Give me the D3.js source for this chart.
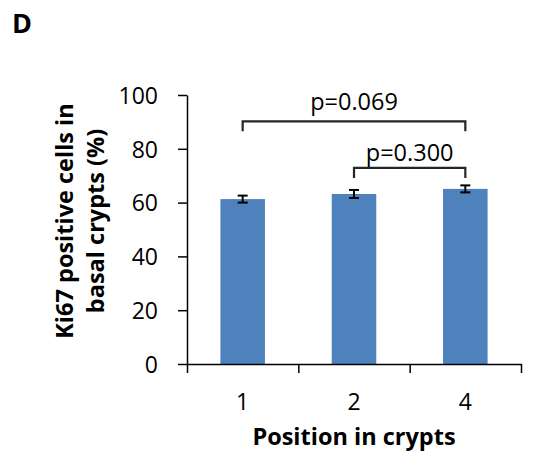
<!DOCTYPE html>
<html>
<head>
<meta charset="utf-8">
<script src="https://cdn.jsdelivr.net/npm/d3@7"></script>
<style>
  html, body { margin: 0; padding: 0; background: #fff; }
  svg { display: block; }
</style>
</head>
<body>
<svg id="chart" width="533" height="461"></svg>
<script>
// Ki67 positive cells by crypt position
const positions = ["1", "2", "4"];
const ki67Mean = [61.3, 63.2, 65.1];
const ki67Err = [1.3, 1.5, 1.3];
const yTicks = [0, 20, 40, 60, 80, 100];
// bracket and label heights are in percent units
const comparisons = [
  { from: "1", to: "4", label: "p=0.069", level: 90.2, labelLevel: 94.4 },
  { from: "2", to: "4", label: "p=0.300", level: 72.9, labelLevel: 75.5 }
];

const svg = d3.select("#chart");
const font = "'Open Sans', 'Liberation Sans', sans-serif";

const plotLeft = 187, plotRight = 521, plotTop = 95, plotBottom = 364;

const x = d3.scaleBand().domain(positions).range([plotLeft, plotRight])
  .paddingInner(0.6).paddingOuter(0.3);
const y = d3.scaleLinear().domain([0, 100]).range([plotBottom, plotTop]);

// Bars
svg.append("g").selectAll("rect")
  .data(positions)
  .join("rect")
  .attr("x", d => x(d))
  .attr("width", x.bandwidth())
  .attr("y", (d, i) => y(ki67Mean[i]))
  .attr("height", (d, i) => y(0) - y(ki67Mean[i]))
  .attr("fill", "#4F81BD");

// Error bars
const eb = svg.append("g").attr("stroke", "#000").attr("stroke-width", 2);
positions.forEach((p, i) => {
  const cx = x(p) + x.bandwidth() / 2;
  const y0 = y(ki67Mean[i] - ki67Err[i]);
  const y1 = y(ki67Mean[i] + ki67Err[i]);
  eb.append("line").attr("x1", cx).attr("x2", cx).attr("y1", y0).attr("y2", y1);
  eb.append("line").attr("x1", cx - 5).attr("x2", cx + 5).attr("y1", y0).attr("y2", y0);
  eb.append("line").attr("x1", cx - 5).attr("x2", cx + 5).attr("y1", y1).attr("y2", y1);
});

// Y axis
const yAxis = svg.append("g")
  .attr("transform", `translate(${plotLeft},0)`)
  .call(d3.axisLeft(y).tickValues(yTicks).tickSize(9).tickSizeOuter(0).tickPadding(20));
yAxis.select(".domain").attr("stroke", "#000").attr("stroke-width", 1.5);
yAxis.selectAll(".tick line").attr("stroke", "#000").attr("stroke-width", 1.5);
yAxis.selectAll("text")
  .attr("font-family", font).attr("font-size", 23).attr("fill", "#000")
  .attr("dy", "0.36em");

// X axis: tick marks on category boundaries, labels under each bar
const boundary = d3.scaleLinear().domain([0, positions.length]).range([plotLeft, plotRight]);
const xTicks = svg.append("g")
  .attr("transform", `translate(0,${plotBottom})`)
  .call(d3.axisBottom(boundary).tickValues(d3.range(positions.length + 1))
    .tickSize(9).tickSizeOuter(0).tickFormat(""));
xTicks.select(".domain").attr("stroke", "#000").attr("stroke-width", 1.5);
xTicks.selectAll(".tick line").attr("stroke", "#000").attr("stroke-width", 1.5);

const xLabels = svg.append("g")
  .attr("transform", `translate(0,${plotBottom})`)
  .call(d3.axisBottom(x).tickSize(0).tickPadding(0));
xLabels.select(".domain").remove();
xLabels.selectAll("text")
  .attr("font-family", font).attr("font-size", 23).attr("fill", "#000")
  .attr("y", 46).attr("dy", 0);

// Significance brackets
const br = svg.append("g");
comparisons.forEach(c => {
  const x1 = x(c.from) + x.bandwidth() / 2;
  const x2 = x(c.to) + x.bandwidth() / 2;
  const yy = y(c.level);
  br.append("path")
    .attr("d", `M${x1},${yy + 10}V${yy}H${x2}V${yy + 10}`)
    .attr("fill", "none").attr("stroke", "#262626").attr("stroke-width", 2.2);
  br.append("text")
    .attr("x", (x1 + x2) / 2).attr("y", y(c.labelLevel))
    .attr("text-anchor", "middle")
    .attr("font-family", font).attr("font-size", 23.5).attr("fill", "#000")
    .text(c.label);
});

// Axis titles
svg.append("text")
  .attr("x", 354).attr("y", 445)
  .attr("text-anchor", "middle")
  .attr("font-family", font).attr("font-size", 23.5).attr("font-weight", "bold")
  .text("Position in crypts");

const yTitle = svg.append("text")
  .attr("transform", "translate(0,221) rotate(-90)")
  .attr("text-anchor", "middle")
  .attr("font-family", font).attr("font-size", 23.5).attr("font-weight", "bold");
yTitle.append("tspan").attr("x", 0).attr("y", 73).text("Ki67 positive cells in");
yTitle.append("tspan").attr("x", 0).attr("y", 104).text("basal crypts (%)");

// Panel letter
svg.append("text")
  .attr("x", 12).attr("y", 33)
  .attr("font-family", font).attr("font-size", 27).attr("font-weight", "bold")
  .text("D");
</script>
</body>
</html>
